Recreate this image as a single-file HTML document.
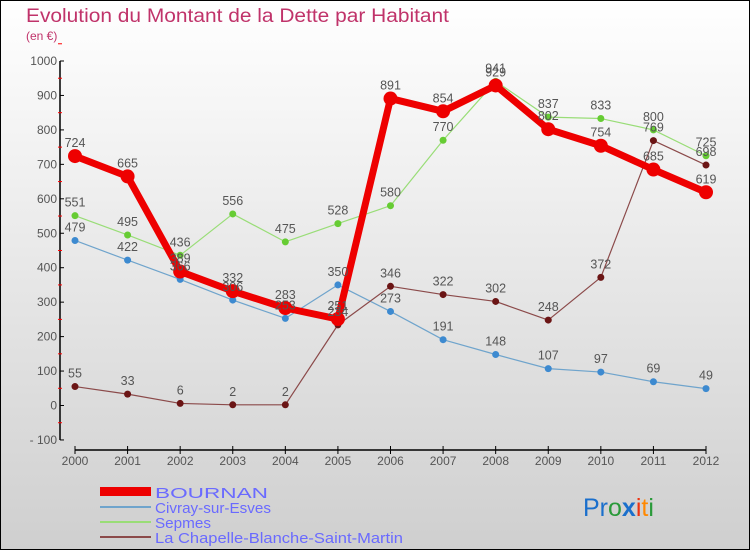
<!DOCTYPE html>
<html><head><meta charset="utf-8"><style>
html,body{margin:0;padding:0}
body{width:750px;height:550px;overflow:hidden;font-family:"Liberation Sans",sans-serif}
</style></head><body>
<svg id="chart" width="750" height="550" xmlns="http://www.w3.org/2000/svg" font-family="Liberation Sans, sans-serif">
<defs><linearGradient id="bg" x1="0" y1="0" x2="0" y2="1"><stop offset="0" stop-color="#ffffff"/><stop offset="1" stop-color="#cfcfcf"/></linearGradient></defs>
<rect x="0.5" y="0.5" width="749" height="549" fill="url(#bg)" stroke="#000"/>
<text x="26" y="22" font-size="19" fill="#c0336a" textLength="423" lengthAdjust="spacingAndGlyphs">Evolution du Montant de la Dette par Habitant</text>
<text x="26" y="40" font-size="12" fill="#c0336a">(en €)</text>
<g id="axes"></g><g id="series"></g><g id="labels"></g>
<g>
<rect x="100" y="487" width="51" height="9" fill="#ee0000"/>
<line x1="100" y1="507" x2="151" y2="507" stroke="#6fa4cc" stroke-width="2"/>
<line x1="100" y1="522" x2="151" y2="522" stroke="#99dd77" stroke-width="2"/>
<line x1="100" y1="537" x2="151" y2="537" stroke="#8b4a4a" stroke-width="2"/>
<text x="155" y="498" font-size="15" fill="#6a6aff" textLength="113" lengthAdjust="spacingAndGlyphs">BOURNAN</text>
<text x="155" y="513" font-size="15" fill="#6a6aff" textLength="116" lengthAdjust="spacingAndGlyphs">Civray-sur-Esves</text>
<text x="155" y="528" font-size="15" fill="#6a6aff" textLength="56" lengthAdjust="spacingAndGlyphs">Sepmes</text>
<text x="155" y="543" font-size="15" fill="#6a6aff" textLength="248" lengthAdjust="spacingAndGlyphs">La Chapelle-Blanche-Saint-Martin</text>
</g>
<text x="583" y="516" font-size="25"><tspan fill="#1a6fcc">Pr</tspan><tspan fill="#2a9a3a">o</tspan><tspan fill="#1a6fcc" font-weight="bold">x</tspan><tspan fill="#ee3311">i</tspan><tspan fill="#ff8800">t</tspan><tspan fill="#2a9a3a">i</tspan></text>
</svg>
<script>
const years=[2000,2001,2002,2003,2004,2005,2006,2007,2008,2009,2010,2011,2012];
const bournan=[724,665,389,332,283,251,891,854,929,802,754,685,619];
const civray=[479,422,366,306,253,350,273,191,148,107,97,69,49];
const sepmes=[551,495,436,556,475,528,580,770,941,837,833,800,725];
const chapelle=[55,33,6,2,2,234,346,322,302,248,372,769,698];
const yTicks=[-100,0,100,200,300,400,500,600,700,800,900,1000];
const NS="http://www.w3.org/2000/svg";
function X(i){return 75+i*(706-75)/(years.length-1);}
function Y(v){return 405.5-v*0.3445;}
function mk(tag,attrs,parent){const e=document.createElementNS(NS,tag);for(const k in attrs)e.setAttribute(k,attrs[k]);parent.appendChild(e);return e;}
const axes=document.getElementById('axes'),ser=document.getElementById('series'),lab=document.getElementById('labels');
let a=mk('line',{x1:60,y1:Y(1000),x2:60,y2:Y(-100),stroke:'#000','stroke-width':1.5},axes);


yTicks.forEach(v=>{
 mk('line',{x1:60,y1:Y(v),x2:64,y2:Y(v),stroke:'#000'},axes);
 mk('line',{x1:58,y1:Y(v+50),x2:62,y2:Y(v+50),stroke:'#f00'},axes);
 const t=mk('text',{x:57,y:Y(v)+4,'font-size':12,fill:'#555','text-anchor':'end'},axes);
 t.textContent=v===-100?'- 100':v;
 
 
});
let xa=mk('line',{x1:X(0),y1:450,x2:X(12),y2:450,stroke:'#000','stroke-width':1.5},axes);


years.forEach((y,i)=>{
 mk('line',{x1:X(i),y1:446,x2:X(i),y2:454,stroke:'#000'},axes);
 const t=mk('text',{x:X(i),y:465,'font-size':12,fill:'#555','text-anchor':'middle'},axes);
 t.textContent=y;
 
 
});
function draw(data,name,color,dot,w,r){
 const p=mk('polyline',{points:data.map((v,i)=>X(i)+','+Y(v)).join(' '),fill:'none',stroke:color,'stroke-width':w,'stroke-linejoin':'round'},ser);
 
 
 data.forEach((v,i)=>{
  const c=mk('circle',{cx:X(i),cy:Y(v),r:r,fill:dot},ser);
  
  
  const t=mk('text',{x:X(i),y:Y(v)-9,'font-size':12.5,fill:'#555','text-anchor':'middle'},lab);
  t.textContent=v;
  
  
 });
}
draw(civray,'civray','#6fa4cc','#3d8ad0',1.2,3.5);
draw(sepmes,'sepmes','#99dd77','#66cc33',1.2,3.5);
draw(chapelle,'la-chapelle','#8b4a4a','#6b1515',1.2,3.5);
draw(bournan,'bournan','#ee0000','#ee0000',7,7);
</script>
</body></html>
